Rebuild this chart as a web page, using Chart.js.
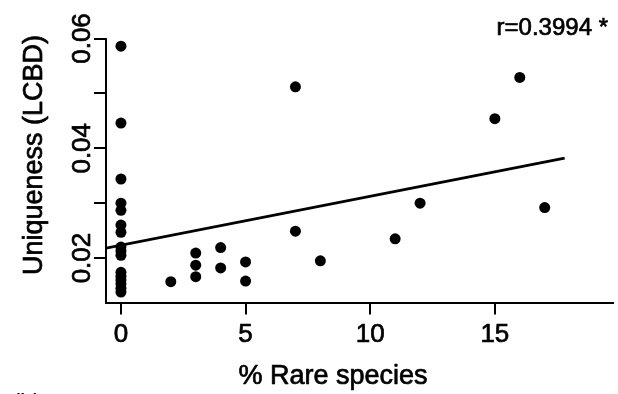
<!DOCTYPE html>
<html>
<head>
<meta charset="utf-8">
<script src="https://cdn.jsdelivr.net/npm/chart.js@4"></script>
<style>
    html, body { margin: 0; padding: 0; background: #ffffff; }
    canvas { display: block; }
</style>
</head>
<body>
<canvas id="lcbdChart" width="618" height="394"></canvas>
<script>
// Uniqueness (LCBD) vs % rare species scatter, R-style axes

// Sites: % rare species and LCBD value
const rareX = [
    0, 0, 0, 0, 0, 0, 0, 0, 0, 0, 0, 0, 0, 0, 0, 0,
    2, 3, 3, 3, 4, 4, 5, 5, 7, 7, 8, 11, 12, 15, 16, 17
];
const lcbdY = [
    0.0586, 0.0446, 0.0344, 0.0300, 0.0287, 0.0260, 0.0247, 0.0220,
    0.0213, 0.0205, 0.0174, 0.0167, 0.0160, 0.0153, 0.0145, 0.0138,
    0.0157, 0.0209, 0.0187, 0.0166, 0.0219, 0.0182, 0.0193, 0.0158,
    0.0512, 0.0249, 0.0195, 0.0235, 0.0300, 0.0454, 0.0529, 0.0292
];

// Fitted regression line, ends as drawn
const fitX = [-0.6, 17.8];
const fitY = [0.0218, 0.0382];

// Axis ticks
const xTicks = [0, 5, 10, 15];
const xTickLabels = ['0', '5', '10', '15'];
const yTicks = [0.02, 0.03, 0.04, 0.05, 0.06];
const yTickLabels = ['0.02', '', '0.04', '', '0.06'];

const xTitle = '% Rare species';
const yTitle = 'Uniqueness (LCBD)';
const corrText = 'r=0.3994 *';

const FONT = '"Liberation Sans", Arial, Helvetica, sans-serif';

// fill + thin stroke, the scanned text is a bit heavier than plain Arial
function heavyText(ctx, text, x, y) {
    ctx.fillText(text, x, y);
    ctx.strokeText(text, x, y);
}

/**
 * Draws the axis texts the way R places them
 */
const rTextPlugin = {
    id: 'rText',
    afterDraw(chart) {
        const ctx = chart.ctx;
        const xs = chart.scales.x;
        const ys = chart.scales.y;
        ctx.save();
        ctx.fillStyle = '#000000';
        ctx.strokeStyle = '#000000';
        ctx.lineWidth = 0.7;
        ctx.lineJoin = 'round';

        // x tick labels
        ctx.font = '26px ' + FONT;
        ctx.textAlign = 'center';
        ctx.textBaseline = 'alphabetic';
        xTicks.forEach((v, i) => {
            heavyText(ctx, xTickLabels[i], xs.getPixelForValue(v), 342);
        });

        // y tick labels, rotated
        yTicks.forEach((v, i) => {
            if (!yTickLabels[i]) return;
            ctx.save();
            ctx.translate(90, ys.getPixelForValue(v));
            ctx.rotate(-Math.PI / 2);
            heavyText(ctx, yTickLabels[i], 0, 0);
            ctx.restore();
        });

        // axis titles
        ctx.font = '27px ' + FONT;
        heavyText(ctx, xTitle, 333, 384);
        ctx.save();
        ctx.translate(42, 155);
        ctx.rotate(-Math.PI / 2);
        heavyText(ctx, yTitle, 0, 0);
        ctx.restore();

        // correlation note
        ctx.font = '24px ' + FONT;
        ctx.textAlign = 'right';
        heavyText(ctx, corrText, 608, 35);

        // panel letter, cut off at the bottom
        ctx.textAlign = 'left';
        ctx.textBaseline = 'top';
        ctx.fillText('(b)', 12, 391);

        ctx.restore();
    }
};

function setTicks(values) {
    return function(scale) {
        scale.ticks = values.map(v => ({ value: v }));
    };
}

function initializeLcbdChart() {
    const ctx = document.getElementById('lcbdChart');

    const points = rareX.map((x, i) => ({ x: x, y: lcbdY[i] }));
    const fitLine = fitX.map((x, i) => ({ x: x, y: fitY[i] }));

    const axisGrid = {
        display: true,
        drawOnChartArea: false,
        drawTicks: true,
        tickLength: 12,
        color: '#000000',
        lineWidth: 2
    };
    const axisBorder = { display: true, color: '#000000', width: 2 };

    window.lcbdChart = new Chart(ctx, {
        type: 'scatter',
        data: {
            datasets: [
                {
                    label: 'Sites',
                    data: points,
                    pointRadius: 5.5,
                    pointBackgroundColor: '#000000',
                    pointBorderWidth: 0,
                    showLine: false
                },
                {
                    type: 'line',
                    label: 'Fit',
                    data: fitLine,
                    borderColor: '#000000',
                    borderWidth: 2.8,
                    pointRadius: 0,
                    fill: false
                }
            ]
        },
        options: {
            responsive: false,
            animation: false,
            layout: { padding: { top: 38.5, right: 0, left: 0, bottom: 0 } },
            plugins: {
                legend: { display: false },
                tooltip: { enabled: false }
            },
            scales: {
                x: {
                    type: 'linear',
                    min: -0.6,
                    max: 19.72,
                    afterBuildTicks: setTicks(xTicks),
                    afterFit: function(scale) { scale.height = 91.5; },
                    ticks: { display: false },
                    grid: axisGrid,
                    border: axisBorder
                },
                y: {
                    type: 'linear',
                    min: 0.0119,
                    max: 0.06,
                    afterBuildTicks: setTicks(yTicks),
                    afterFit: function(scale) { scale.width = 106; },
                    ticks: { display: false },
                    grid: axisGrid,
                    border: axisBorder
                }
            }
        },
        plugins: [rTextPlugin]
    });
}

initializeLcbdChart();
</script>
</body>
</html>
